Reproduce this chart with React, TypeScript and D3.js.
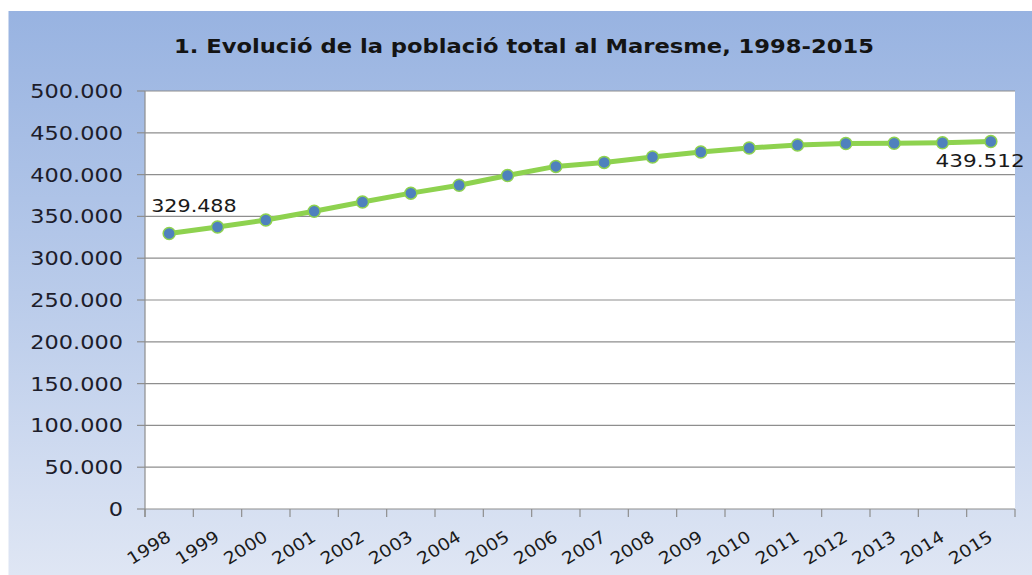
import React from "react";
import * as d3 from "d3";

const years = ["1998","1999","2000","2001","2002","2003","2004","2005","2006","2007","2008","2009","2010","2011","2012","2013","2014","2015"];
const population = [329488, 337300, 345700, 356100, 367200, 377800, 387300, 399000, 409800, 414600, 421000, 427000, 431800, 435500, 437100, 437600, 438000, 439512];
const yTicks = [0, 50000, 100000, 150000, 200000, 250000, 300000, 350000, 400000, 450000, 500000];
const title = "1. Evolució de la població total al Maresme, 1998-2015";

const W = 1032, H = 575;
const M = { left: 145, right: 1015, top: 91, bottom: 509 };

const fmt = (v: number) => d3.format(",")(v).replace(/,/g, ".");

export default function App() {
  const x = d3.scaleBand<string>().domain(years).range([M.left, M.right]);
  const y = d3.scaleLinear().domain([0, 500000]).range([M.bottom, M.top]);
  const cx = (yr: string) => (x(yr) as number) + x.bandwidth() / 2;
  const line = d3.line<number>().x((_, i) => cx(years[i])).y((d) => y(d));
  const font = "'DejaVu Sans', Verdana, sans-serif";
  const tickEdges = d3.range(years.length + 1).map((i) => M.left + i * x.bandwidth());
  const last = years.length - 1;

  return (
    <svg width={W} height={H} style={{ position: "absolute", left: 0, top: 0 }} xmlns="http://www.w3.org/2000/svg">
      <defs>
        <linearGradient id="bg" x1="0" y1="0" x2="0" y2="1">
          <stop offset="0" stopColor="#98b3e1" />
          <stop offset="0.5" stopColor="#b9cbea" />
          <stop offset="1" stopColor="#dfe6f4" />
        </linearGradient>
      </defs>
      <rect x={0} y={0} width={W} height={H} fill="#ffffff" />
      <rect x={8.5} y={11} width={W - 8.5} height={H - 11} fill="url(#bg)" />
      <text x={524} y={53} textAnchor="middle" fontFamily={font} fontWeight="bold" fontSize={19} fill="#141414" textLength={700} lengthAdjust="spacingAndGlyphs">{title}</text>
      <rect x={M.left} y={M.top} width={M.right - M.left} height={M.bottom - M.top} fill="#ffffff" />
      {yTicks.map((t) => (
        <g key={t}>
          {t > 0 && <line x1={M.left} x2={M.right} y1={y(t)} y2={y(t)} stroke="#8e8e8e" strokeWidth={1.2} />}
          <line x1={M.left - 8} x2={M.left} y1={y(t)} y2={y(t)} stroke="#8e8e8e" strokeWidth={1.2} />
          <g transform={`translate(${M.left - 22},${y(t) + 7}) scale(1.18,1)`}>
            <text textAnchor="end" fontFamily={font} fontSize={19} fill="#1d1d2b">{fmt(t)}</text>
          </g>
        </g>
      ))}
      <line x1={M.left} x2={M.left} y1={M.top} y2={M.bottom + 8} stroke="#8e8e8e" strokeWidth={1.2} />
      <line x1={M.left} x2={M.right} y1={M.bottom} y2={M.bottom} stroke="#8e8e8e" strokeWidth={1.2} />
      {tickEdges.map((tx, i) => (
        <line key={i} x1={tx} x2={tx} y1={M.bottom} y2={M.bottom + 8} stroke="#8e8e8e" strokeWidth={1.2} />
      ))}
      {years.map((yr) => (
        <g key={yr} transform={`translate(${cx(yr) + 3},${M.bottom + 31}) rotate(-32)`}>
          <text textAnchor="end" fontFamily={font} fontSize={17} fill="#1a1a1a" transform="scale(1.1,1)">{yr}</text>
        </g>
      ))}
      <path d={line(population) || ""} fill="none" stroke="#8ed24f" strokeWidth={5} strokeLinejoin="round" />
      {population.map((v, i) => (
        <circle key={i} cx={cx(years[i])} cy={y(v)} r={6} fill="#4f81bd" stroke="#8ed24f" strokeWidth={1.5} />
      ))}
      <g transform={`translate(${cx(years[0]) - 18},${y(population[0]) - 22}) scale(1.15,1)`}>
        <text fontFamily={font} fontSize={18} fill="#1a1a1a">{fmt(population[0])}</text>
      </g>
      <g transform={`translate(${cx(years[last]) + 34},${y(population[last]) + 25}) scale(1.2,1)`}>
        <text textAnchor="end" fontFamily={font} fontSize={18} fill="#1a1a1a">{fmt(population[last])}</text>
      </g>
    </svg>
  );
}
